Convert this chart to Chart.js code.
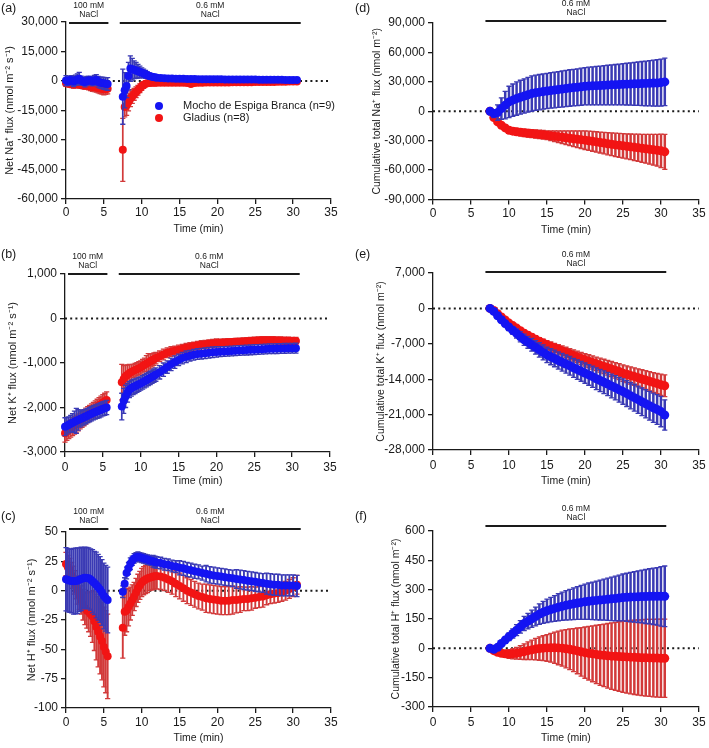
<!DOCTYPE html>
<html>
<head>
<meta charset="utf-8">
<script src="https://cdn.jsdelivr.net/npm/chart.js@4.4.1/dist/chart.umd.min.js"></script>
<style>
  body { margin: 0; background: #fff; }
  #fig { position: relative; width: 709px; height: 748px; }
  canvas { position: absolute; }
</style>
</head>
<body>
<div id="fig">
  <canvas id="pa" width="354" height="245" style="left:0;top:0"></canvas>
  <canvas id="pb" width="354" height="245" style="left:0;top:245px"></canvas>
  <canvas id="pc" width="354" height="258" style="left:0;top:490px"></canvas>
  <canvas id="pd" width="355" height="245" style="left:354px;top:0"></canvas>
  <canvas id="pe" width="355" height="245" style="left:354px;top:245px"></canvas>
  <canvas id="pf" width="355" height="258" style="left:354px;top:490px"></canvas>
</div>
<script>
// time points (min)
const timeEarly = [0,0.25,0.5,0.75,1,1.25,1.5,1.75,2,2.25,2.5,2.75,3,3.25,3.5,3.75,4,4.25,4.5,4.75,5,5.25,5.5];
const timeLateFine = [7.5,7.75,8,8.25,8.5,8.75,9,9.25,9.5,9.75,10,10.25,10.5,10.75,11,11.25,11.5,11.75,12,
  12.5,13,13.5,14,14.5,15,15.5,16,16.5,17,17.5,18,18.5,19,19.5,20,20.5,21,21.5,22,22.5,23,23.5,24,24.5,25,
  25.5,26,26.5,27,27.5,28,28.5,29,29.5,30,30.5];
const timeLate = [7.5,8,8.5,9,9.5,10,10.5,11,11.5,12,12.5,13,13.5,14,14.5,15,15.5,16,16.5,17,17.5,18,18.5,19,19.5,20,
  20.5,21,21.5,22,22.5,23,23.5,24,24.5,25,25.5,26,26.5,27,27.5,28,28.5,29,29.5,30,30.5];
const timeTicks = [0,5,10,15,20,25,30,35];

const cultivars = ['Mocho de Espiga Branca (n=9)', 'Gladius (n=8)'];

// (a) net Na+ flux
const naBlueEarly = [200,-200,500,300,-300,400,800,1200,300,-200,-500,0,400,200,-200,300,600,-400,-800,-1000,-1200,-1400,-1500];
const naBlueEarlyErr = [2500,2200,2000,2400,2500,2600,2800,3200,2200,2000,2500,2300,2000,2100,2300,2500,2600,2700,2800,2900,3000,3100,3200];
const naRedEarly = [-1200,-1300,-1500,-1700,-1800,-1700,-1600,-1800,-2000,-2100,-2200,-2300,-2500,-2800,-3000,-3100,-3300,-3500,-3800,-4000,-4200,-4100,-4000];
const naRedEarlyErr = [1500,1500,1500,1700,1800,1800,1700,1700,1800,1900,2000,2000,2000,2100,2200,2300,2400,2500,2600,2700,2800,2700,2500];
const naBlueLate = [-8000,-4700,-2500,2500,6300,6000,5700,5400,5000,4600,4200,3800,3400,2900,2500,2250,2000,1850,1700,
  1500,1350,1300,1250,1200,1150,1100,1050,1000,1000,950,950,900,900,880,850,830,820,800,780,770,760,750,740,720,700,
  690,680,660,650,630,610,590,570,550,520,500];
const naBlueLateErr = [14000,9000,6000,7000,6500,5500,4500,4000,3500,3000,2500,2200,2000,1700,1500,1300,1200,1100,1000,
  900,800,800,750,750,700,700,700,700,700,700,650,650,650,650,650,650,600,600,600,600,600,600,600,600,600,
  600,600,600,550,550,550,550,550,550,550,550];
const naRedLate = [-35000,-13200,-12500,-10700,-9000,-7900,-6800,-5700,-4700,-3700,-2700,-2000,-1400,-1150,-1000,-950,-900,-870,-850,
  -850,-850,-850,-850,-850,-850,-900,-1000,-1500,-1000,-900,-850,-800,-800,-750,-750,-700,-700,-700,-650,-650,-650,-600,-600,-600,-550,
  -550,-500,-500,-450,-450,-400,-400,-350,-300,-300,-250];
const naRedLateErr = [16000,5000,5000,4500,4000,3500,3000,2700,2500,2200,2000,1700,1500,1300,1200,1100,1000,950,900,
  800,800,800,800,800,800,800,800,1200,800,800,700,700,700,700,700,650,650,650,650,650,650,600,600,600,600,
  600,600,600,550,550,550,550,550,500,500,500];

// (b) net K+ flux
const kBlueEarly = [-2430,-2410,-2390,-2365,-2340,-2320,-2300,-2280,-2260,-2240,-2220,-2200,-2180,-2160,-2140,-2120,-2100,-2085,-2070,-2050,-2030,-2015,-2000];
const kBlueEarlyErr = [200,190,180,190,200,240,280,230,180,175,170,165,160,160,160,160,160,160,160,160,160,160,160];
const kRedEarly = [-2580,-2540,-2500,-2465,-2430,-2400,-2370,-2335,-2300,-2265,-2230,-2195,-2160,-2125,-2090,-2055,-2020,-1985,-1950,-1920,-1890,-1860,-1830];
const kRedEarlyErr = [200,200,200,200,200,200,200,190,180,180,180,180,180,175,170,170,170,170,170,175,180,180,180];
const kBlueLate = [-1980,-1850,-1750,-1670,-1600,-1570,-1540,-1520,-1500,-1480,-1460,-1435,-1410,-1385,-1360,-1335,-1310,-1285,-1260,
  -1210,-1150,-1090,-1030,-980,-930,-890,-860,-835,-815,-800,-790,-780,-770,-760,-750,-745,-740,-735,-730,-725,-720,-715,-710,-705,-700,
  -695,-690,-685,-680,-678,-676,-674,-672,-670,-668,-666];
const kBlueLateErr = [300,280,250,210,180,175,170,165,160,155,150,150,150,150,150,150,150,150,150,
  150,150,140,140,140,130,130,130,120,120,120,120,120,120,120,120,110,110,110,110,110,110,110,110,110,110,
  110,110,110,110,110,110,110,110,110,110,110];
const kRedLate = [-1430,-1360,-1300,-1265,-1230,-1205,-1180,-1160,-1140,-1120,-1100,-1070,-1040,-1015,-990,-965,-940,-915,-890,
  -850,-810,-770,-740,-720,-700,-680,-660,-640,-620,-605,-590,-580,-570,-560,-550,-545,-540,-535,-530,-525,-520,-515,-510,-505,-500,
  -495,-490,-490,-490,-490,-495,-495,-500,-500,-505,-505];
const kRedLateErr = [400,300,250,220,200,170,150,150,150,150,150,150,150,180,200,170,150,140,130,
  120,120,110,110,100,100,100,100,100,90,90,90,90,90,90,90,80,80,80,80,80,80,80,80,80,80,
  80,80,80,80,80,80,80,80,80,80,80];

// (c) net H+ flux
const hBlueEarly = [9.7,9,8.5,8.2,8,8.2,8.5,9.2,10,10.5,11,10.8,10.5,9.5,8,6.5,4.8,3,1,-1.5,-4.5,-6.5,-8];
const hBlueEarlyErr = [27,27,27,27,28,28,28,27,27,26,26,26,26,26,27,27,28,28,28,28,28,28,28];
const hRedEarly = [22.7,20,17.6,13,9,5,0.5,-4,-8,-12,-15,-17,-18,-20,-22,-26,-31,-35,-39,-43,-48,-52,-56];
const hRedEarlyErr = [10,10,10,11,12,12,12,12,12,13,14,15,17,19,22,25,28,30,32,33,34,35,36];
const hBlueLate = [-1,6,15,19,23,25.5,27.5,28.5,29,28.5,28,27.5,27,26.5,26,25.5,25,24.5,24,
  23.5,22.5,22,21,20.5,19.5,19,18,17.5,16.5,16,15,14.5,13.5,13,12.5,12,11.5,11,10.5,10,9.5,9,8.5,8,7.5,
  7,6.5,6,5.5,5,5,4.5,4.5,4.5,4.5,4];
const hBlueLateErr = [5,5,5,5,5,4,4,4,4,4,4,4,4,4,4,4,5,5,5,
  5,5,5,5,5,6,6,6,6,6,6,6,7,7,7,7,7,7,7,7,8,8,8,8,8,8,
  8,8,9,9,9,9,9,9,9,9,9];
const hRedLate = [-31.5,-18,-17,-14,-11,-8,-5,-1.5,2,4.5,7,8.5,9.5,10.3,11,11.5,12,12.3,12.5,
  12,11,9.5,8,6,4,2,0,-1.5,-3,-4.5,-5.5,-6.5,-7,-7.5,-8,-8.5,-8.5,-8.5,-8,-8,-7.5,-7,-7,-6.5,-6,
  -5.5,-5,-4,-3,-2.5,-2,-1,0,1.5,3,5];
const hRedLateErr = [26,20,18,16,14,13,12,12,12,12,12,12,12,12,11,11,11,11,11,
  11,11,11,11,11,11,11,11,11,11,11,11,12,12,12,12,12,12,12,12,11,11,10,10,10,9,
  9,9,8,8,8,8,8,8,8,8,8];

// (d) cumulative Na+
const cumNaBlue = [0,-2400,-1400,2700,6200,9500,11300,12900,14300,15600,16800,18000,18800,19500,20100,20700,21200,21700,22200,22700,
  23200,23700,24100,24500,25000,25500,25700,25900,26100,26300,26500,26700,26900,27100,27300,27500,27650,27800,27950,28100,28250,28400,28550,28700,28850,29200,29900];
const cumNaBlueErr = [500,4000,8000,11000,14000,16000,16500,17000,17300,17500,17700,18000,18000,18000,18000,18000,18100,18200,18300,18400,
  18500,18600,18700,18800,18900,19000,19200,19400,19600,19800,20000,20200,20400,20600,20800,21000,21300,21600,21900,22200,22500,22800,23100,23400,23700,24000,24200];
const cumNaRed = [0,-6500,-10900,-14300,-17000,-19400,-20300,-21000,-21500,-22000,-22400,-22800,-23200,-23600,-24000,-24500,-25000,-25500,-26000,-26500,
  -27000,-27500,-28000,-28500,-29000,-29500,-30100,-30700,-31300,-31900,-32500,-33100,-33700,-34300,-34800,-35300,-35800,-36300,-36800,-37300,-37800,-38300,-38800,-39300,-39800,-40400,-41400];
const cumNaRedErr = [500,1500,2000,2500,2800,3000,3200,3400,3600,3800,4000,4100,4200,4300,4400,4500,5000,5500,6000,6500,
  7000,7500,8000,8500,9000,9500,9800,10100,10400,10700,11000,11300,11600,11900,12200,12500,12800,13100,13500,13900,14300,14700,15200,15700,16200,17000,17800];

// (e) cumulative K+
const cumKBlue = [0,-600,-1450,-2250,-3000,-3700,-4350,-4950,-5600,-6200,-6700,-7200,-7700,-8200,-8700,-9200,-9550,-9900,-10300,-10650,
  -11000,-11350,-11750,-12100,-12450,-12800,-13150,-13500,-13900,-14250,-14600,-14950,-15350,-15700,-16100,-16450,-16850,-17250,-17650,-18050,-18450,-18850,-19250,-19650,-20000,-20400,-21070];
const cumKBlueErr = [50,150,300,450,580,700,800,900,1000,1100,1180,1260,1340,1420,1480,1540,1590,1640,1690,1740,
  1790,1840,1880,1920,1960,2000,2050,2100,2150,2200,2250,2300,2350,2400,2450,2500,2550,2600,2650,2700,2750,2800,2850,2900,2950,3000,3000];
const cumKRed = [0,-400,-1050,-1700,-2300,-2900,-3400,-3900,-4400,-4900,-5300,-5700,-6100,-6500,-6850,-7200,-7500,-7800,-8100,-8400,
  -8700,-9000,-9300,-9600,-9900,-10170,-10430,-10700,-10960,-11220,-11480,-11740,-12000,-12250,-12500,-12800,-13030,-13260,-13490,-13720,-13950,-14180,-14410,-14640,-14870,-15100,-15300];
const cumKRedErr = [50,100,180,250,320,380,430,480,530,580,620,660,700,740,780,820,860,900,940,980,
  1020,1060,1100,1140,1180,1220,1260,1300,1340,1380,1420,1460,1500,1540,1580,1620,1660,1700,1740,1780,1820,1860,1900,1950,2000,2100,2150];

// (f) cumulative H+
const cumHBlue = [0,-5,5,25,42,59,76,93,110,127,139,151,163,175,184,192,198,204,210,215,
  220,224,228,232,235,238,241,243,245,247,249,251,253,255,257,260,261,262,263,264,265,265,266,266,266,266,266];
const cumHBlueErr = [2,5,8,12,16,20,24,28,32,36,40,44,48,52,56,60,63,66,69,72,
  75,78,81,84,87,90,93,96,99,102,105,108,111,114,117,120,123,126,129,132,135,138,141,144,147,152,155];
const cumHRed = [0,-12,-20,-25,-28,-29,-28,-25,-21,-17,-12,-8,-4,-1,1,2,3,3,2,1,
  -2,-5,-9,-13,-18,-22,-25,-28,-31,-34,-36,-38,-40,-41,-42,-43,-44,-45,-46,-47,-48,-48,-49,-50,-50,-51,-51];
const cumHRedErr = [2,6,10,14,18,22,26,30,35,40,45,50,55,60,64,68,74,80,86,92,
  98,104,110,117,124,131,137,143,149,155,160,165,170,174,178,182,185,188,190,192,194,196,197,198,199,200,200];

// y tick values
const naTicks = [-60000,-45000,-30000,-15000,0,15000,30000];
const kTicks = [-3000,-2000,-1000,0,1000];
const hTicks = [-100,-75,-50,-25,0,25,50];
const cumNaTicks = [-90000,-60000,-30000,0,30000,60000,90000];
const cumKTicks = [-28000,-21000,-14000,-7000,0,7000];
const cumHTicks = [-300,-150,0,150,300,450,600];

// NaCl treatment phases (min)
const phasesBoth = [{from: 0.4, to: 5.6, text: ['100 mM', 'NaCl']}, {from: 7.1, to: 31, text: ['0.6 mM', 'NaCl']}];
const phasesLow = [{from: 6.9, to: 30.7, text: ['0.6 mM', 'NaCl']}];

const FONT = "'Liberation Sans', Arial, sans-serif";
const BLUE = '#1414f2', RED = '#f21414';
const BLUE_BAR = '#3a3ab4', RED_BAR = '#d23a3a';
const INK = '#1a1a1a';

const allTime = timeEarly.concat(timeLateFine);

const panels = [
  {id: 'pa', H: 245, left: 66, right: 331, top: 22, bottom: 199, xlab: 212, xtitle: 229, ytx: 10,
   ytitle: 'Net Na⁺ flux (nmol m⁻² s⁻¹)', ticks: naTicks, letter: '(a)', letterY: 9, barY: 23, phases: phasesBoth, legend: true, r: 4, bw: 1.7,
   t: allTime, blue: naBlueEarly.concat(naBlueLate), blueErr: naBlueEarlyErr.concat(naBlueLateErr),
   red: naRedEarly.concat(naRedLate), redErr: naRedEarlyErr.concat(naRedLateErr)},
  {id: 'pb', H: 245, left: 65, right: 330, top: 29, bottom: 207, xlab: 222, xtitle: 236, ytx: 13,
   ytitle: 'Net K⁺ flux (nmol m⁻² s⁻¹)', ticks: kTicks, letter: '(b)', letterY: 10, barY: 29, phases: phasesBoth, r: 4, bw: 1.7,
   t: allTime, blue: kBlueEarly.concat(kBlueLate), blueErr: kBlueEarlyErr.concat(kBlueLateErr),
   red: kRedEarly.concat(kRedLate), redErr: kRedEarlyErr.concat(kRedLateErr)},
  {id: 'pc', H: 258, left: 66, right: 331, top: 42, bottom: 218, xlab: 232, xtitle: 248, ytx: 32,
   ytitle: 'Net H⁺ flux (nmol m⁻² s⁻¹)', ticks: hTicks, letter: '(c)', letterY: 27, barY: 39, phases: phasesBoth, r: 4, bw: 1.9,
   t: allTime, blue: hBlueEarly.concat(hBlueLate), blueErr: hBlueEarlyErr.concat(hBlueLateErr),
   red: hRedEarly.concat(hRedLate), redErr: hRedEarlyErr.concat(hRedLateErr)},
  {id: 'pd', H: 245, left: 79, right: 345, top: 23, bottom: 199.5, xlab: 213, xtitle: 230, ytx: 23,
   ytitle: 'Cumulative total Na⁺ flux (nmol m⁻²)', ticks: cumNaTicks, letter: '(d)', letterY: 9, barY: 21, phases: phasesLow, r: 4.5, bw: 2.5,
   t: timeLate, blue: cumNaBlue, blueErr: cumNaBlueErr, red: cumNaRed, redErr: cumNaRedErr},
  {id: 'pe', H: 245, left: 79, right: 345, top: 28, bottom: 205, xlab: 220, xtitle: 236, ytx: 27,
   ytitle: 'Cumulative total K⁺ flux (nmol m⁻²)', ticks: cumKTicks, letter: '(e)', letterY: 10, barY: 27, phases: phasesLow, r: 4.5, bw: 2.5,
   t: timeLate, blue: cumKBlue, blueErr: cumKBlueErr, red: cumKRed, redErr: cumKRedErr},
  {id: 'pf', H: 258, left: 79, right: 346, top: 41, bottom: 217, xlab: 232, xtitle: 248, ytx: 42,
   ytitle: 'Cumulative total H⁺ flux (nmol m⁻²)', ticks: cumHTicks, letter: '(f)', letterY: 27, barY: 36, phases: phasesLow, r: 4.5, bw: 2.5,
   t: timeLate, blue: cumHBlue, blueErr: cumHBlueErr, red: cumHRed, redErr: cumHRedErr}
];

function makeDecor(p) {
  return {
    id: 'decor',
    beforeDatasetsDraw(chart) {
      const {ctx, scales: {x, y}} = chart;
      const y0 = y.getPixelForValue(0);
      ctx.save();
      ctx.strokeStyle = INK;
      ctx.lineWidth = 2;
      ctx.setLineDash([2, 3.2]);
      ctx.beginPath();
      ctx.moveTo(x.getPixelForValue(0), y0);
      ctx.lineTo(x.getPixelForValue(35), y0);
      ctx.stroke();
      ctx.restore();
    },
    beforeDatasetDraw(chart, args) {
      const ds = chart.data.datasets[args.index];
      const {ctx, scales: {x, y}} = chart;
      ctx.save();
      ctx.strokeStyle = ds.barColor;
      ds.data.forEach((pt, i) => {
        const e = ds.errors[i];
        const px = x.getPixelForValue(pt.x);
        const top = y.getPixelForValue(pt.y + e);
        const bot = y.getPixelForValue(pt.y - e);
        ctx.lineWidth = p.bw;
        ctx.beginPath();
        ctx.moveTo(px, top); ctx.lineTo(px, bot);
        ctx.stroke();
        ctx.lineWidth = 1.3;
        ctx.beginPath();
        ctx.moveTo(px - 2.6, top); ctx.lineTo(px + 2.6, top);
        ctx.moveTo(px - 2.6, bot); ctx.lineTo(px + 2.6, bot);
        ctx.stroke();
      });
      ctx.restore();
    },
    afterDraw(chart) {
      const {ctx, scales: {x}} = chart;
      ctx.save();
      // treatment bars
      p.phases.forEach(ph => {
        const x1 = x.getPixelForValue(ph.from), x2 = x.getPixelForValue(ph.to);
        ctx.strokeStyle = INK;
        ctx.lineWidth = 1.8;
        ctx.beginPath();
        ctx.moveTo(x1, p.barY); ctx.lineTo(x2, p.barY);
        ctx.stroke();
        ctx.fillStyle = INK;
        ctx.font = '8.5px ' + FONT;
        ctx.textAlign = 'center';
        ctx.textBaseline = 'middle';
        ctx.fillText(ph.text[0], (x1 + x2) / 2, p.barY - 17);
        ctx.fillText(ph.text[1], (x1 + x2) / 2, p.barY - 8);
      });
      // panel letter
      ctx.fillStyle = INK;
      ctx.font = '12.5px ' + FONT;
      ctx.textAlign = 'left';
      ctx.textBaseline = 'middle';
      ctx.fillText(p.letter, 1, p.letterY);
      // legend
      if (p.legend) {
        ctx.font = '11px ' + FONT;
        [[BLUE, cultivars[0], 106], [RED, cultivars[1], 118]].forEach(([c, label, ly]) => {
          ctx.fillStyle = c;
          ctx.beginPath();
          ctx.arc(159, ly, 4, 0, Math.PI * 2);
          ctx.fill();
          ctx.fillStyle = INK;
          ctx.fillText(label, 183, ly);
        });
      }
      ctx.restore();
    }
  };
}

panels.forEach(p => {
  const canvas = document.getElementById(p.id);
  const W = canvas.width;
  const ytFont = p.left > 70 ? 10.5 : 11;
  new Chart(canvas, {
    type: 'scatter',
    data: {
      datasets: [
        {label: cultivars[0], data: p.t.map((t, i) => ({x: t, y: p.blue[i]})), errors: p.blueErr,
         backgroundColor: BLUE, borderWidth: 0, pointRadius: p.r, barColor: BLUE_BAR, clip: false},
        {label: cultivars[1], data: p.t.map((t, i) => ({x: t, y: p.red[i]})), errors: p.redErr,
         backgroundColor: RED, borderWidth: 0, pointRadius: p.r, barColor: RED_BAR, clip: false}
      ]
    },
    options: {
      responsive: false,
      animation: false,
      events: [],
      layout: {padding: {left: 0, top: p.top, right: W - p.right, bottom: 0}},
      plugins: {legend: {display: false}, tooltip: {enabled: false}},
      scales: {
        x: {
          type: 'linear', min: 0, max: 35,
          afterBuildTicks: s => { s.ticks = timeTicks.map(v => ({value: v})); },
          afterFit: s => { s.height = p.H - p.bottom; },
          grid: {drawOnChartArea: false, drawTicks: true, tickLength: 5, color: INK, lineWidth: 1.3},
          border: {display: true, color: INK, width: 1.3},
          ticks: {font: {family: FONT, size: 12}, color: INK, padding: p.xlab - p.bottom - 11.6, maxRotation: 0, autoSkip: false},
          title: {display: true, text: 'Time (min)', color: INK, font: {family: FONT, size: 10.5},
                  padding: {top: 0, bottom: p.H - p.xtitle - 6.3}}
        },
        y: {
          type: 'linear', min: p.ticks[0], max: p.ticks[p.ticks.length - 1],
          afterBuildTicks: s => { s.ticks = p.ticks.map(v => ({value: v})); },
          afterFit: s => { s.width = p.left; },
          grid: {drawOnChartArea: false, drawTicks: true, tickLength: 5, color: INK, lineWidth: 1.3},
          border: {display: true, color: INK, width: 1.3},
          ticks: {font: {family: FONT, size: 12}, color: INK, padding: 3, autoSkip: false,
                  callback: v => v.toLocaleString('en-US')},
          title: {display: true, text: p.ytitle, color: INK, font: {family: FONT, size: ytFont},
                  padding: {top: p.ytx - ytFont * 0.6, bottom: 0}}
        }
      }
    },
    plugins: [makeDecor(p)]
  });
});
</script>
</body>
</html>
